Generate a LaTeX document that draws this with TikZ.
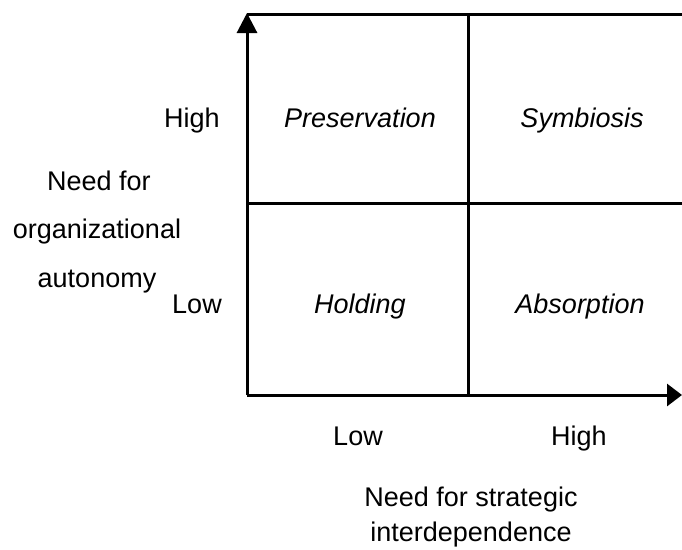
\documentclass[tikz,border=0pt]{standalone}
\usepackage{fontspec}
\setmainfont{Liberation Sans}
\usetikzlibrary{arrows.meta}
\begin{document}
\begin{tikzpicture}[x=1pt,y=-1pt,
  lbl/.style={font=\fontsize{27}{30}\selectfont, anchor=base, inner sep=0pt},
  cell/.style={lbl, font=\fontsize{27}{30}\selectfont\itshape},
  gridline/.style={line width=3pt},
  yaxis/.style={gridline, -{Triangle[width=20pt,length=20pt]}},
  xaxis/.style={gridline, -{Triangle[width=22pt,length=15pt]}}]
\useasboundingbox (0,0) rectangle (682,549);

% frame points
\coordinate (o) at (247,395);
\coordinate (ytip) at (247,13);
\coordinate (xtip) at (682,395);
\coordinate (tl) at (247,14);
\coordinate (tr) at (682,14);
\coordinate (ml) at (247,203);
\coordinate (mr) at (682,203);
\coordinate (mt) at (468,14);
\coordinate (mb) at (468,395);

% quadrant lines
\draw[gridline] (tl) -- (tr);
\draw[gridline] (ml) -- (mr);
\draw[gridline] (mt) -- (mb);

% axes
\draw[yaxis] (o) -- (ytip);
\draw[xaxis] (o) -- (xtip);

% vertical axis labels
\node[lbl] (yhigh) at (192,127) {High};
\node[lbl] (ylow) at (197,313) {Low};
\node[lbl] (yt1) at (99,190) {Need for};
\node[lbl] (yt2) at (97,238) {organizational};
\node[lbl] (yt3) at (97,287) {autonomy};

% quadrants
\node[cell] (pres) at (360,127) {Preservation};
\node[cell] (symb) at (582,127) {Symbiosis};
\node[cell] (hold) at (360,313) {Holding};
\node[cell] (abso) at (580,313) {Absorption};

% horizontal axis labels
\node[lbl] (xt1) at (471,506) {Need for strategic};
\node[lbl] (xt2) at (471,541) {interdependence};
\node[lbl] (xlow) at (358,445) {Low};
\node[lbl] (xhigh) at (579,445) {High};
\end{tikzpicture}
\end{document}
